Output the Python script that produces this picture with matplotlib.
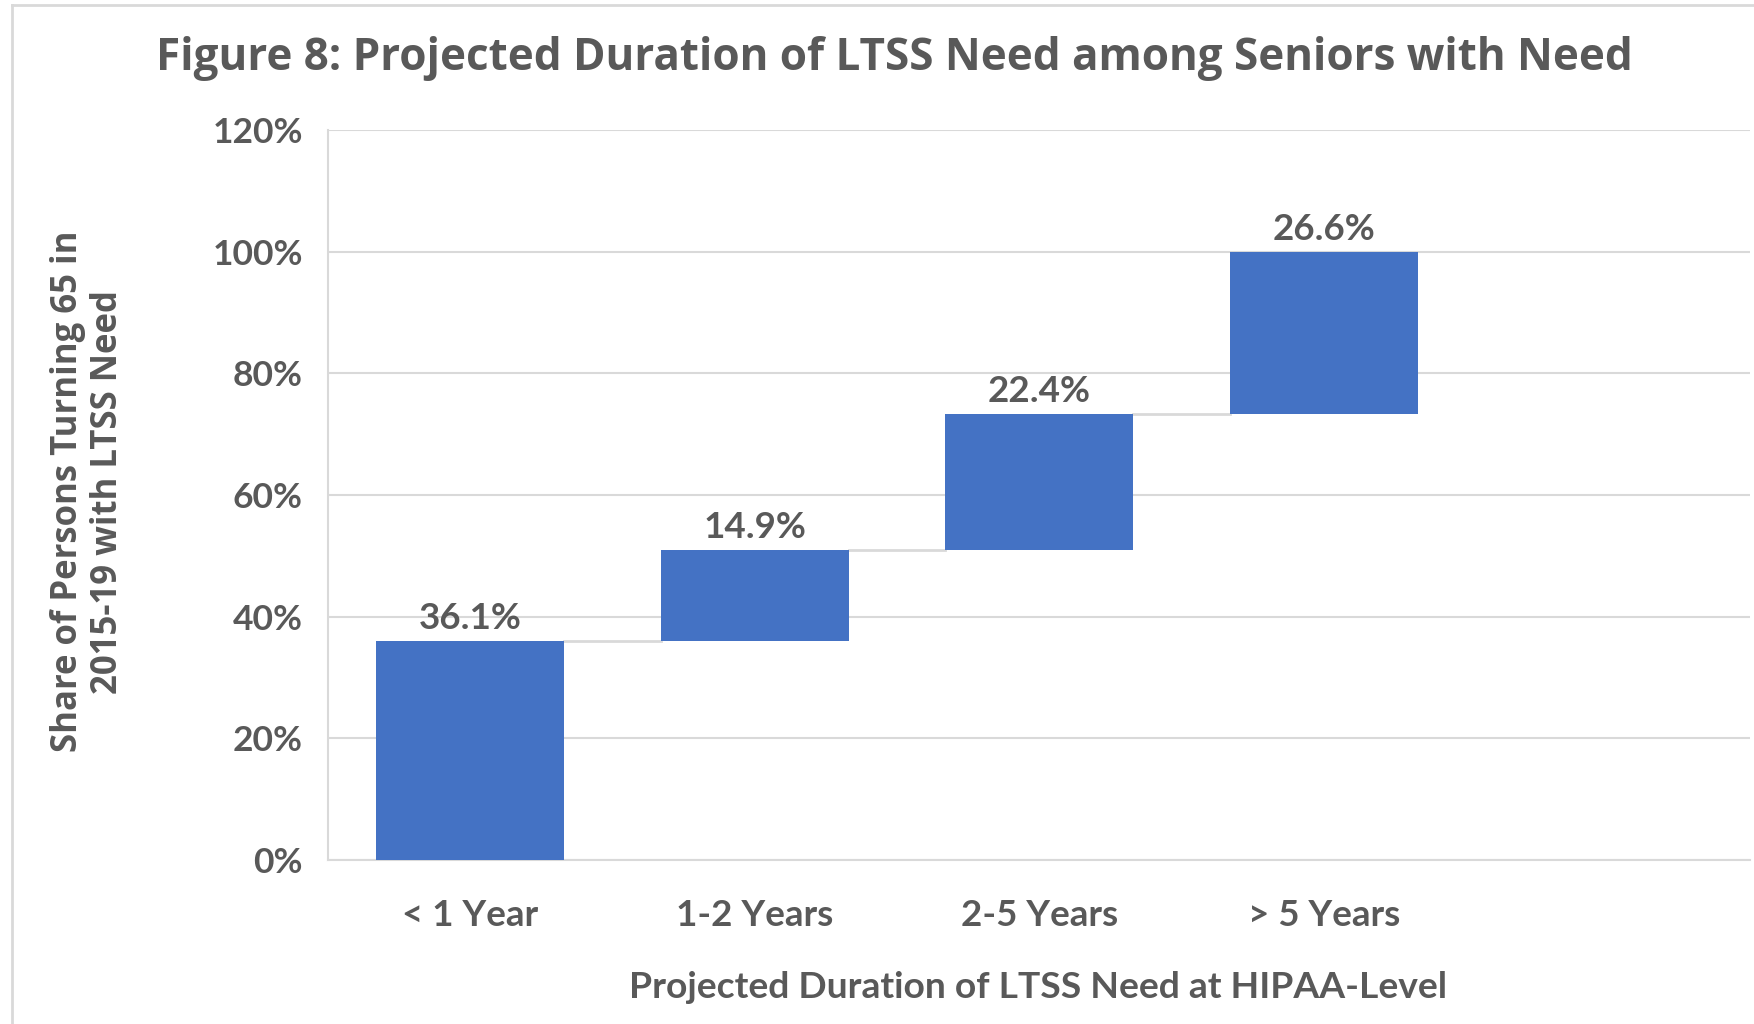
import matplotlib.pyplot as plt
from matplotlib.lines import Line2D

# data
categories = ["< 1 Year", "1-2 Years", "2-5 Years", "> 5 Years"]
shares = [36.1, 14.9, 22.4, 26.6]
y_ticks = [0, 20, 40, 60, 80, 100, 120]

blue = "#4472C4"
txt = "#595959"
grid = "#D9D9D9"

fig = plt.figure(figsize=(17.54, 10.24), dpi=100)
ax = fig.add_axes([0.187, 0.160, 0.811, 0.713])

# waterfall: each bar starts where the previous one ended
bottoms = []
run = 0
for v in shares:
    bottoms.append(run)
    run += v
tops = [b + v for b, v in zip(bottoms, shares)]

xs = list(range(len(categories)))
w = 0.66
ax.bar(xs, shares, bottom=bottoms, width=w, color=blue, zorder=3)

# connectors
for i in range(len(shares) - 1):
    ax.plot([xs[i] + w / 2, xs[i + 1] - w / 2], [tops[i], tops[i]],
            color=grid, lw=2, zorder=2)

for x, t, v in zip(xs, tops, shares):
    ax.annotate(f"{v:.1f}%", xy=(x, t), xytext=(0, 4), textcoords="offset points",
                ha="center", va="bottom", fontsize=26.5, fontweight="bold",
                family="Lato", color=txt)

ax.set_xlim(-0.5, len(categories) + 0.5)
ax.set_ylim(0, 120)
ax.set_yticks(y_ticks)
ax.set_yticklabels([f"{t}%" for t in y_ticks])
ax.set_xticks(xs)
ax.set_xticklabels(categories)
ax.tick_params(axis="both", length=0, labelcolor=txt)
ax.tick_params(axis="y", pad=18, labelsize=25.5)
ax.tick_params(axis="x", pad=28, labelsize=26.5)
for lab in ax.get_xticklabels() + ax.get_yticklabels():
    lab.set_family("Lato")
    lab.set_fontweight("bold")

ax.grid(axis="y", color=grid, lw=1.5, zorder=0)
for s in ["top", "right"]:
    ax.spines[s].set_visible(False)
for s in ["left", "bottom"]:
    ax.spines[s].set_color(grid)
    ax.spines[s].set_linewidth(1.5)

fig.text(0.51, 0.943, "Figure 8: Projected Duration of LTSS Need among Seniors with Need",
         ha="center", va="center", fontsize=31.7, fontweight="bold",
         family="Open Sans", color=txt)
fig.text(0.592, 0.036, "Projected Duration of LTSS Need at HIPAA-Level",
         ha="center", va="center", fontsize=26.8, fontweight="bold",
         family="Lato", color=txt)
fig.text(0.05, 0.52, "Share of Persons Turning 65 in\n2015-19 with LTSS Need",
         ha="center", va="center", rotation=90, fontsize=25, fontweight="bold",
         family="Open Sans", color=txt, linespacing=1.15)

# chart area border (left and top visible)
fig.add_artist(Line2D([0.007, 0.007], [0, 0.995], transform=fig.transFigure, color=grid, lw=2))
fig.add_artist(Line2D([0.007, 1], [0.995, 0.995], transform=fig.transFigure, color=grid, lw=2))

fig.savefig("out.png", dpi=100)
